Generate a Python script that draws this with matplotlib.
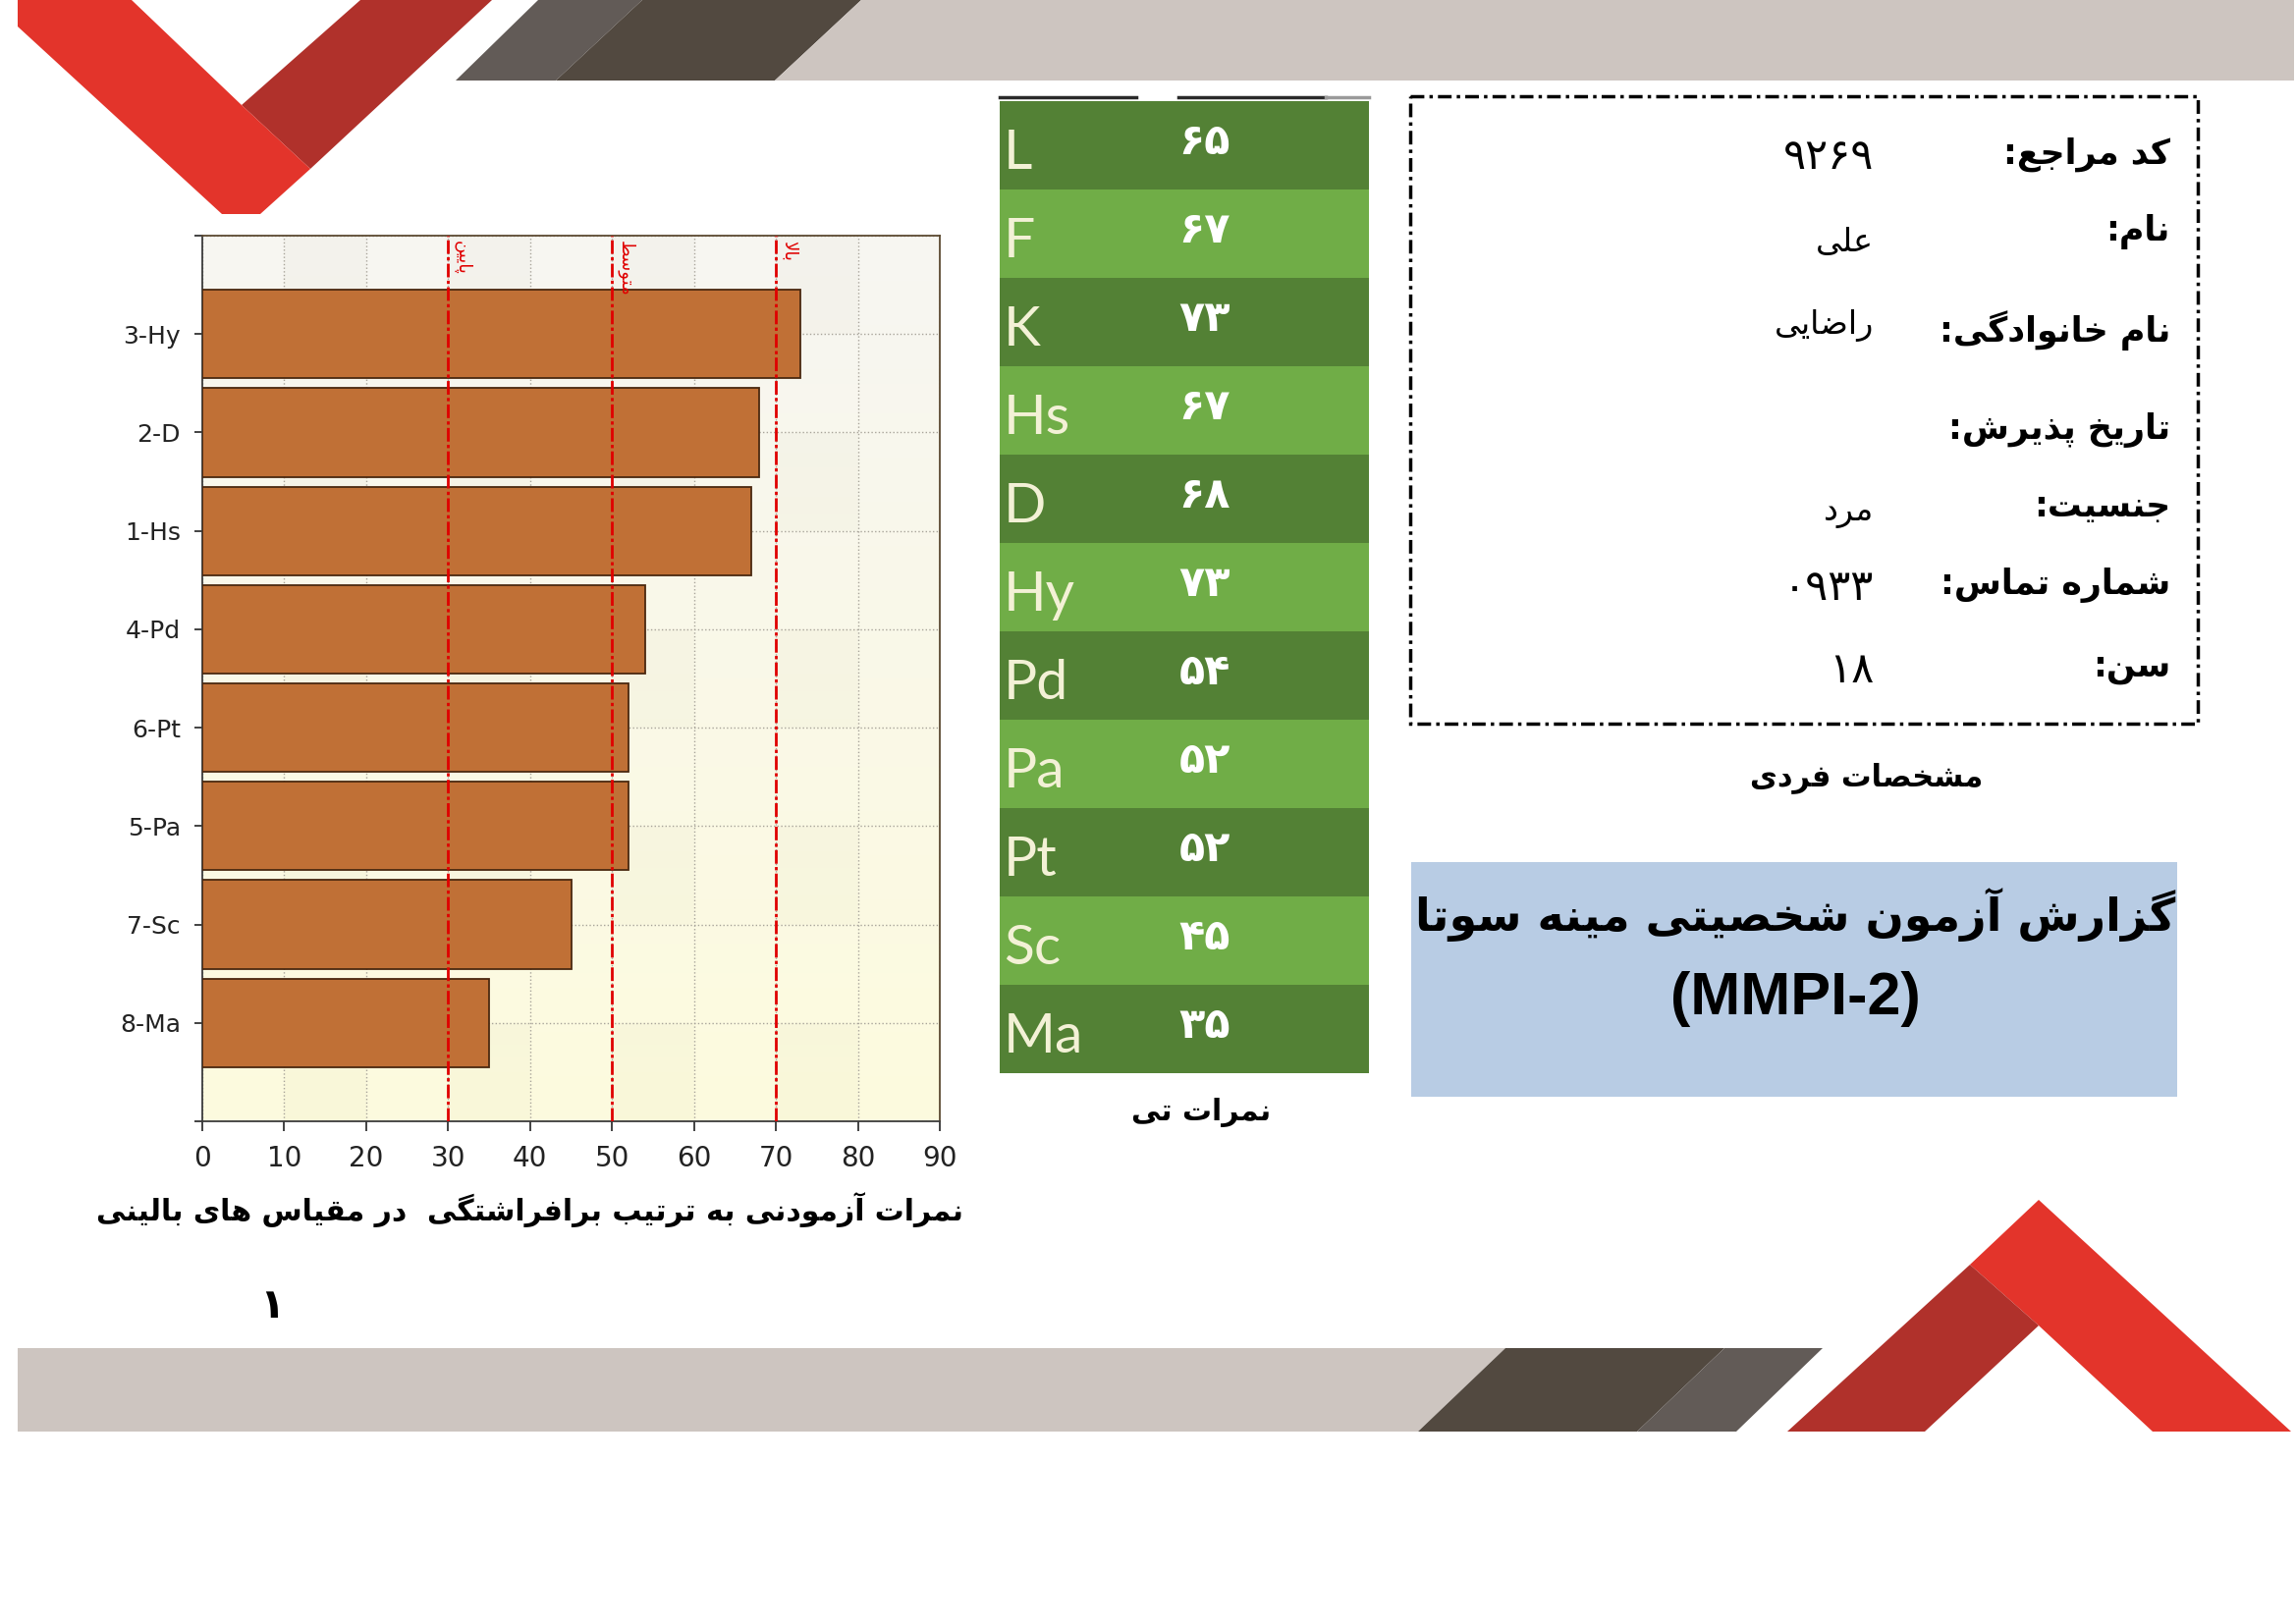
import re
import numpy as np
import matplotlib
matplotlib.use('Agg')
import matplotlib.pyplot as plt
from matplotlib.patches import Polygon, Rectangle

# ---------------- data ----------------
chart_labels = ['3-Hy', '2-D', '1-Hs', '4-Pd', '6-Pt', '5-Pa', '7-Sc', '8-Ma']
chart_values = [73, 68, 67, 54, 52, 52, 45, 35]
x_ticks = [0, 10, 20, 30, 40, 50, 60, 70, 80, 90]
level_values = [30, 50, 70]
level_labels = ['پایین', 'متوسط', 'بالا']
x_label = 'نمرات آزمودنی به ترتیب برافراشتگی  در مقیاس های بالینی'
page_number = '۱'

table_scales = ['L', 'F', 'K', 'Hs', 'D', 'Hy', 'Pd', 'Pa', 'Pt', 'Sc', 'Ma']
table_tscores = [65, 67, 73, 67, 68, 73, 54, 52, 52, 45, 35]
table_caption = 'نمرات تی'

info_labels = ['کد مراجع:', 'نام:', 'نام خانوادگی:', 'تاریخ پذیرش:', 'جنسیت:', 'شماره تماس:', 'سن:']
info_values = ['۹۲۶۹', 'علی', 'راضایی', '', 'مرد', '۰۹۳۳', '۱۸']
info_caption = 'مشخصات فردی'
title_line1 = 'گزارش آزمون شخصیتی مینه سوتا'
title_line2 = '(MMPI-2)'

# ---------------- Persian shaping helpers ----------------
FORMS = {
    'ا': ('\uFE8D', '\uFE8E', None, None), 'آ': ('\uFE81', '\uFE82', None, None),
    'ب': ('\uFE8F', '\uFE90', '\uFE91', '\uFE92'), 'پ': ('\uFB56', '\uFB57', '\uFB58', '\uFB59'),
    'ت': ('\uFE95', '\uFE96', '\uFE97', '\uFE98'), 'ث': ('\uFE99', '\uFE9A', '\uFE9B', '\uFE9C'),
    'ج': ('\uFE9D', '\uFE9E', '\uFE9F', '\uFEA0'), 'چ': ('\uFB7A', '\uFB7B', '\uFB7C', '\uFB7D'),
    'ح': ('\uFEA1', '\uFEA2', '\uFEA3', '\uFEA4'), 'خ': ('\uFEA5', '\uFEA6', '\uFEA7', '\uFEA8'),
    'د': ('\uFEA9', '\uFEAA', None, None), 'ذ': ('\uFEAB', '\uFEAC', None, None),
    'ر': ('\uFEAD', '\uFEAE', None, None), 'ز': ('\uFEAF', '\uFEB0', None, None),
    'ژ': ('\uFB8A', '\uFB8B', None, None),
    'س': ('\uFEB1', '\uFEB2', '\uFEB3', '\uFEB4'), 'ش': ('\uFEB5', '\uFEB6', '\uFEB7', '\uFEB8'),
    'ص': ('\uFEB9', '\uFEBA', '\uFEBB', '\uFEBC'), 'ض': ('\uFEBD', '\uFEBE', '\uFEBF', '\uFEC0'),
    'ط': ('\uFEC1', '\uFEC2', '\uFEC3', '\uFEC4'), 'ظ': ('\uFEC5', '\uFEC6', '\uFEC7', '\uFEC8'),
    'ع': ('\uFEC9', '\uFECA', '\uFECB', '\uFECC'), 'غ': ('\uFECD', '\uFECE', '\uFECF', '\uFED0'),
    'ف': ('\uFED1', '\uFED2', '\uFED3', '\uFED4'), 'ق': ('\uFED5', '\uFED6', '\uFED7', '\uFED8'),
    'ک': ('\uFB8E', '\uFB8F', '\uFB90', '\uFB91'), 'گ': ('\uFB92', '\uFB93', '\uFB94', '\uFB95'),
    'ل': ('\uFEDD', '\uFEDE', '\uFEDF', '\uFEE0'), 'م': ('\uFEE1', '\uFEE2', '\uFEE3', '\uFEE4'),
    'ن': ('\uFEE5', '\uFEE6', '\uFEE7', '\uFEE8'), 'و': ('\uFEED', '\uFEEE', None, None),
    'ه': ('\uFEE9', '\uFEEA', '\uFEEB', '\uFEEC'), 'ی': ('\uFBFC', '\uFBFD', '\uFBFE', '\uFBFF'),
}
LAMALEF = {'ا': ('\uFEFB', '\uFEFC'), 'آ': ('\uFEF5', '\uFEF6')}


def _dual(c):
    return c in FORMS and FORMS[c][2] is not None


def shape(s):
    out = []
    i, n = 0, len(s)
    while i < n:
        c = s[i]
        if c not in FORMS:
            out.append(c)
            i += 1
            continue
        prev_j = i > 0 and _dual(s[i - 1])
        if c == 'ل' and i + 1 < n and s[i + 1] in LAMALEF:
            iso, fin = LAMALEF[s[i + 1]]
            out.append(fin if prev_j else iso)
            i += 2
            continue
        next_j = _dual(c) and i + 1 < n and s[i + 1] in FORMS
        iso, fin, ini, med = FORMS[c]
        if prev_j and next_j:
            out.append(med)
        elif prev_j:
            out.append(fin)
        elif next_j:
            out.append(ini)
        else:
            out.append(iso)
        i += 1
    return ''.join(out)


def fa(s):
    tokens = re.findall(r'[0-9\u06F0-\u06F9A-Za-z]+|.', shape(s))
    return ''.join(reversed(tokens))


def fa_digits(n):
    return str(n).translate(str.maketrans('0123456789', '۰۱۲۳۴۵۶۷۸۹'))


def is_number(s):
    return bool(s) and all('\u06F0' <= ch <= '\u06F9' for ch in s)


FA_FONT = ['DejaVu Sans']
NARROW = ['Liberation Sans Narrow', 'DejaVu Sans']

# ---------------- figure ----------------
W, H = 2338, 1654
fig = plt.figure(figsize=(W / 100, H / 100), dpi=100)
fig.patch.set_facecolor('white')
bg = fig.add_axes([0, 0, 1, 1])
bg.set_xlim(0, W)
bg.set_ylim(H, 0)
bg.axis('off')

RED = '#e3342b'
DRED = '#b0312b'
LGRAY = '#cdc5c0'
DBROWN = '#524940'
MGRAY = '#625b57'

polys = [
    # top band
    ([(464, 82), (548, 0), (654, 0), (566, 82)], MGRAY),
    ([(566, 82), (654, 0), (877, 0), (789, 82)], DBROWN),
    ([(789, 82), (877, 0), (2336, 0), (2336, 82)], LGRAY),
    # bottom band
    ([(18, 1373), (1533, 1373), (1444, 1458), (18, 1458)], LGRAY),
    ([(1444, 1458), (1533, 1373), (1756, 1373), (1667, 1458)], DBROWN),
    ([(1667, 1458), (1756, 1373), (1856, 1373), (1768, 1458)], MGRAY),
    # top-left V
    ([(367, 0), (501, 0), (316, 172), (246, 107)], DRED),
    ([(18, 0), (134, 0), (246, 107), (316, 172), (265, 218), (226, 218), (18, 27)], RED),
    # bottom-right A
    ([(2076, 1222), (2333, 1458), (2192, 1458), (2076, 1350), (2006, 1288)], RED),
    ([(2006, 1288), (2076, 1350), (1960, 1458), (1820, 1458)], DRED),
]
for pts, col in polys:
    bg.add_patch(Polygon(pts, closed=True, facecolor=col, edgecolor='none', zorder=1))

# ---------------- green T-score table ----------------
tx0, tx1, ty0, row_h = 1018, 1394, 103, 90
bg.plot([1018, 1157], [99, 99], color='#2a2a2a', lw=2.5, zorder=2)
bg.plot([1200, 1350], [99, 99], color='#2a2a2a', lw=2.5, zorder=2)
bg.plot([1350, 1394], [99, 99], color='#9a9a9a', lw=2.5, zorder=2)
for i, (sc, tv) in enumerate(zip(table_scales, table_tscores)):
    top = ty0 + i * row_h
    col = '#538135' if i % 2 == 0 else '#70ad47'
    bg.add_patch(Rectangle((tx0, top), tx1 - tx0, row_h, facecolor=col, edgecolor='none', zorder=2))
    bg.text(tx0 + 4, top + 69, sc, fontsize=41, color='#f3f1d6', family=['Lato', 'DejaVu Sans'],
            ha='left', va='baseline', zorder=3)
    bg.text(1227, top + 42, fa_digits(tv), fontsize=31, fontweight='bold', color='white',
            family=FA_FONT, ha='center', va='center', zorder=3)
bg.text(1223, 1133, fa(table_caption), fontsize=21.5, fontweight='bold', color='black',
        family=FA_FONT, ha='center', va='center', zorder=3)

# ---------------- info box ----------------
bg.add_patch(Rectangle((1436, 98), 2238 - 1436, 737 - 98, facecolor='none', edgecolor='black',
                       lw=2.5, linestyle=(0, (4, 1.5, 1, 1.5)), zorder=3))
label_y = [157, 236, 337, 438, 516, 596, 680]
value_y = [160, 246, 331, 438, 522, 599, 683]
for lab, val, ly, vy in zip(info_labels, info_values, label_y, value_y):
    bg.text(2210, ly, fa(lab), fontsize=25, fontweight='bold', color='black', family=FA_FONT,
            ha='right', va='center', zorder=4)
    if val:
        bg.text(1908, vy, fa(val), fontsize=31 if is_number(val) else 24, color='black',
                family=FA_FONT, ha='right', va='center', zorder=4)
bg.text(1901, 792, fa(info_caption), fontsize=22, fontweight='bold', color='black',
        family=FA_FONT, ha='center', va='center', zorder=4)

# ---------------- title box ----------------
bg.add_patch(Rectangle((1437, 878), 2217 - 1437, 1117 - 878, facecolor='#b8cce4', edgecolor='none', zorder=2))
bg.text(1828, 932, fa(title_line1), fontsize=33, fontweight='bold', color='black',
        family=FA_FONT, ha='center', va='center', zorder=4)
bg.text(1828, 1018, title_line2, fontsize=44, fontweight='bold', color='black',
        family=['Liberation Sans', 'DejaVu Sans'], ha='center', va='center', zorder=4)

# ---------------- chart ----------------
ax = fig.add_axes([206 / W, 1 - 1142 / H, 751 / W, 902 / H])
ax.set_zorder(5)
ny, nx = 900, 900
ys = np.linspace(-1, 8, ny)
xs = np.linspace(0, 90, nx)
t = (ys - ys.min()) / (ys.max() - ys.min())
top_c = np.array([0xf7, 0xf6, 0xf2]) / 255
bot_c = np.array([0xfd, 0xfb, 0xde]) / 255
img = (top_c[None, :] * (1 - t[:, None]) + bot_c[None, :] * t[:, None])[:, None, :].repeat(nx, axis=1)
col_odd = (np.floor(xs / 10).astype(int) % 2 == 1)
row_odd = (np.floor(ys).astype(int) % 2 == 1)
mask = row_odd[:, None] & col_odd[None, :]
img[mask] -= np.array([0.014, 0.014, 0.02])
ax.imshow(np.clip(img, 0, 1), extent=(0, 90, 8, -1), aspect='auto', origin='upper',
          zorder=0, interpolation='bilinear')

ypos = np.arange(len(chart_labels))
ax.barh(ypos, chart_values, height=0.9, color='#c07036', edgecolor='#4a2810', lw=1.3, zorder=3)
for v, lab in zip(level_values, level_labels):
    ax.axvline(v, color='#e00000', lw=2, dashes=(5, 1.2, 1.2, 1.2), zorder=4)
    ax.text(v + 0.6, -0.95, fa(lab), rotation=270, fontsize=13, color='#e00000',
            family=FA_FONT, ha='left', va='top', zorder=5)

ax.set_xlim(0, 90)
ax.set_ylim(8, -1)
ax.set_xticks(x_ticks)
ax.set_xticklabels([str(x) for x in x_ticks], family=NARROW, fontsize=20, color='#222222')
ax.set_yticks(range(-1, 9))
ax.set_yticklabels([''] + chart_labels + [''], family=NARROW, fontsize=18, color='#222222')
ax.tick_params(axis='x', length=7, width=1.2, direction='out', pad=10, colors='#222222')
ax.tick_params(axis='y', length=6, width=1.2, direction='out', pad=10, colors='#222222')
ax.set_axisbelow(True)
ax.grid(True, axis='both', linestyle=':', color='#a8a49a', lw=1, zorder=1)
for side in ['left', 'bottom']:
    ax.spines[side].set_color('#3c3c3c')
    ax.spines[side].set_linewidth(1.3)
for side in ['top', 'right']:
    ax.spines[side].set_color('#5c4a32')
    ax.spines[side].set_linewidth(1.3)

bg.text(540, 1232, fa(x_label), fontsize=21.5, fontweight='bold', color='black',
        family=FA_FONT, ha='center', va='center', zorder=4)
bg.text(277, 1330, page_number, fontsize=30, fontweight='bold', color='black',
        family=FA_FONT, ha='center', va='center', zorder=4)

fig.savefig('out.png', dpi=100, facecolor='white')
